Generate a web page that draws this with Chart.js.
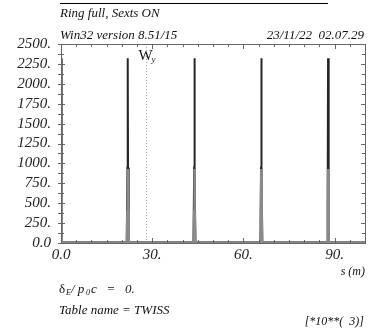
<!DOCTYPE html>
<html>
<head>
<meta charset="utf-8">
<script src="https://cdn.jsdelivr.net/npm/chart.js@4.4.0/dist/chart.umd.min.js"></script>
<style>
  html, body { margin: 0; padding: 0; background: #fff; }
  #wrap { width: 379px; height: 336px; }
</style>
</head>
<body>
<div id="wrap"><canvas id="twiss" width="379" height="336"></canvas></div>
<script>
// W functions along the ring, s in metres
const sWy = [0.0, 0.12, 0.3, 21.65, 21.85, 21.95, 22.05, 22.25, 43.6, 43.8, 43.9, 44.0, 44.2,
             65.6, 65.8, 65.9, 66.0, 66.2, 87.55, 87.75, 87.85, 87.95, 88.15, 100.0];
const wy  = [2320, 950, 8, 8, 950, 2320, 950, 8, 8, 950, 2320, 950, 8,
             8, 950, 2320, 950, 8, 8, 950, 2320, 950, 8, 8];
const sWx = [0.0, 0.12, 0.3, 21.65, 21.83, 21.95, 22.07, 22.25, 43.6, 43.78, 43.9, 44.02, 44.2,
             65.6, 65.78, 65.9, 66.02, 66.2, 87.55, 87.73, 87.85, 87.97, 88.15, 100.0];
const wx  = [930, 400, 6, 6, 400, 930, 400, 6, 6, 400, 930, 400, 6,
             6, 400, 930, 400, 6, 6, 400, 930, 400, 6, 6];
const xTicks = [0, 30, 60, 90];
const yTicks = [0, 250, 500, 750, 1000, 1250, 1500, 1750, 2000, 2250, 2500];
const markerS = 28.1;

const serif = '"Liberation Serif", "DejaVu Serif", serif';
const toPts = (xs, ys) => xs.map((v, i) => ({x: v, y: ys[i]}));

const frame = {
  id: 'frame',
  beforeDatasetsDraw(chart) {
    const {ctx, chartArea: a, scales: {x}} = chart;
    const px = Math.round(x.getPixelForValue(markerS)) + 0.5;
    ctx.save();
    ctx.strokeStyle = '#aaa';
    ctx.setLineDash([1, 2]);
    ctx.beginPath();
    ctx.moveTo(px, a.top);
    ctx.lineTo(px, a.bottom);
    ctx.stroke();
    ctx.restore();
  },
  afterDraw(chart) {
    const {ctx, chartArea: a, scales: {x, y}} = chart;
    ctx.save();
    ctx.strokeStyle = '#666';
    ctx.lineWidth = 1;
    ctx.strokeRect(Math.round(a.left) + 0.5, Math.round(a.top) + 0.5,
                   Math.round(a.right - a.left), Math.round(a.bottom - a.top));
    ctx.beginPath();
    for (let v = 0; v <= 100; v += 5) {
      const p = Math.round(x.getPixelForValue(v)) + 0.5;
      const len = v % 30 === 0 ? 5 : 3;
      ctx.moveTo(p, a.bottom); ctx.lineTo(p, a.bottom - len);
      ctx.moveTo(p, a.top); ctx.lineTo(p, a.top + len);
    }
    for (let v = 0; v <= 2500; v += 125) {
      const p = Math.round(y.getPixelForValue(v)) + 0.5;
      const len = v % 250 === 0 ? 4 : 3;
      ctx.moveTo(a.left - 3, p); ctx.lineTo(a.left + len, p);
      ctx.moveTo(a.right, p); ctx.lineTo(a.right - len, p);
    }
    ctx.stroke();

    // header
    ctx.strokeStyle = '#000';
    ctx.beginPath();
    ctx.moveTo(60, 3.5); ctx.lineTo(328, 3.5);
    ctx.stroke();
    ctx.fillStyle = '#111';
    ctx.textBaseline = 'alphabetic';
    ctx.font = 'italic 13px ' + serif;
    ctx.textAlign = 'left';
    ctx.fillText('Ring full, Sexts ON', 60, 17);
    ctx.fillText('Win32 version 8.51/15', 60, 39);
    ctx.textAlign = 'right';
    ctx.fillText('23/11/22  02.07.29', 364, 39);

    // curve label
    const lx = x.getPixelForValue(markerS);
    ctx.textAlign = 'left';
    ctx.font = '15px ' + serif;
    ctx.fillText('W', lx - 8, 60);
    ctx.font = 'italic 9px ' + serif;
    ctx.fillText('y', lx + 5, 62);

    // axis title and footer
    ctx.font = 'italic 12px ' + serif;
    ctx.textAlign = 'right';
    ctx.fillText('s (m)', 365, 275);
    ctx.fillText('[*10**(  3)]', 364, 325);
    ctx.textAlign = 'left';
    ctx.font = '13px ' + serif;
    ctx.fillText('\u03b4', 59, 293);
    ctx.font = 'italic 8px ' + serif;
    ctx.fillText('E', 66, 295);
    ctx.font = 'italic 13px ' + serif;
    ctx.fillText('/ p', 71, 293);
    ctx.font = 'italic 8px ' + serif;
    ctx.fillText('0', 86, 295);
    ctx.font = 'italic 13px ' + serif;
    ctx.fillText('c   =   0.', 91, 293);
    ctx.fillText('Table name = TWISS', 59, 314);
    ctx.restore();
  }
};

new Chart(document.getElementById('twiss'), {
  type: 'scatter',
  data: {
    datasets: [
      {
        label: 'Wx',
        data: toPts(sWx, wx),
        showLine: true,
        borderColor: '#8a8a8a',
        borderWidth: 2.5,
        pointRadius: 0,
        tension: 0
      },
      {
        label: 'Wy',
        data: toPts(sWy, wy),
        showLine: true,
        borderColor: '#262626',
        borderWidth: 2,
        pointRadius: 0,
        tension: 0
      }
    ]
  },
  options: {
    responsive: false,
    animation: false,
    layout: { padding: { top: 44, right: 14, left: 0, bottom: 0 } },
    plugins: { legend: { display: false }, tooltip: { enabled: false } },
    scales: {
      x: {
        type: 'linear',
        min: 0,
        max: 100,
        afterBuildTicks: s => { s.ticks = xTicks.map(v => ({value: v})); },
        afterFit: s => { s.height = 93; },
        grid: { display: false, drawTicks: false },
        border: { display: false },
        ticks: {
          padding: 3,
          maxRotation: 0,
          autoSkip: false,
          color: '#222',
          font: { family: serif, size: 15, style: 'italic' },
          callback: v => v === 0 ? '0.0' : v + '.'
        }
      },
      y: {
        type: 'linear',
        min: 0,
        max: 2500,
        afterBuildTicks: s => { s.ticks = yTicks.map(v => ({value: v})); },
        afterFit: s => { s.width = 61; },
        grid: { display: false, drawTicks: false },
        border: { display: false },
        ticks: {
          padding: 10,
          autoSkip: false,
          color: '#222',
          font: { family: serif, size: 15, style: 'italic' },
          callback: v => v === 0 ? '0.0' : v + '.'
        }
      }
    }
  },
  plugins: [frame]
});
</script>
</body>
</html>
